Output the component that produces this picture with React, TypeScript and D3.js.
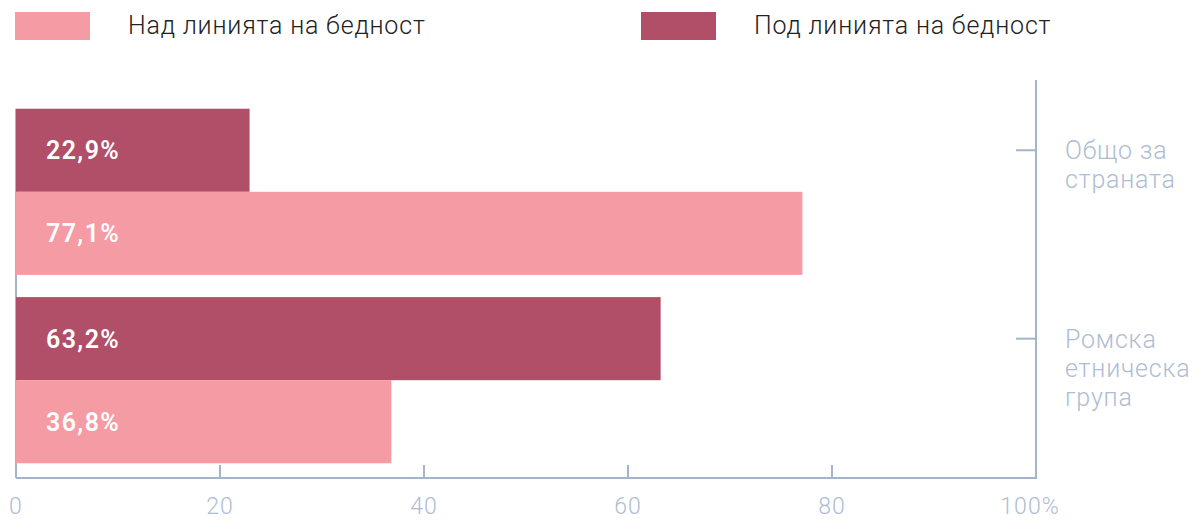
import React from 'react';
import * as d3 from 'd3';

const categories = ['Общо за страната', 'Ромска етническа група'];
const categoryLines = [['Общо за', 'страната'], ['Ромска', 'етническа', 'група']];
const seriesNames = ['Под линията на бедност', 'Над линията на бедност'];
const belowPoverty = [22.9, 63.2];
const abovePoverty = [77.1, 36.8];
const xTicks = [0, 20, 40, 60, 80, 100];

const colors = ['#b04f67', '#f59ba4'];
const axisColor = '#a4b4cc';
const labelColor = '#aebdd3';

const App: React.FC = () => {
  const width = 1200;
  const height = 521;

  const x = d3.scaleLinear().domain([0, 100]).range([16, 1036]);
  const y = d3.scaleBand().domain(categories).range([88, 484]).paddingInner(0.118).paddingOuter(0.11);
  const sub = d3.scaleBand().domain(seriesNames).range([0, y.bandwidth()]);

  const fmt = (v: number) => v.toFixed(1).replace('.', ',') + '%';
  const series = [belowPoverty, abovePoverty];
  const bottom = 478;

  return (
    <svg
      width={width}
      height={height}
      lang="bg"
      style={{ position: 'absolute', left: 0, top: 0, fontFamily: 'Roboto, sans-serif' }}
    >
      {/* legend */}
      <rect x={15} y={12} width={75} height={28} fill={colors[1]} />
      <text x={128} y={34} fontSize={25} fontWeight={300} letterSpacing={0.8} fill="#222">
        {seriesNames[1]}
      </text>
      <rect x={641} y={12} width={75} height={28} fill={colors[0]} />
      <text x={754} y={34} fontSize={25} fontWeight={300} letterSpacing={0.8} fill="#222">
        {seriesNames[0]}
      </text>

      {/* left axis line */}
      <line x1={x(0)} x2={x(0)} y1={y(categories[0])!} y2={bottom} stroke={axisColor} strokeWidth={2} />

      {/* bars */}
      {categories.map((c, i) => (
        <g key={c}>
          {series.map((s, j) => (
            <g key={j}>
              <rect
                x={x(0)}
                y={y(c)! + sub(seriesNames[j])!}
                width={x(s[i]) - x(0)}
                height={sub.bandwidth()}
                fill={colors[j]}
              />
              <text
                x={46}
                y={y(c)! + sub(seriesNames[j])! + sub.bandwidth() / 2 + 9}
                fontSize={25}
                fontWeight={600}
                letterSpacing={1.4}
                fill="#fff"
              >
                {fmt(s[i])}
              </text>
            </g>
          ))}
        </g>
      ))}

      {/* bottom axis */}
      <line x1={x(0)} x2={x(100) + 1} y1={bottom} y2={bottom} stroke={axisColor} strokeWidth={2} />
      {xTicks.map(t => (
        <g key={t}>
          <line x1={x(t)} x2={x(t)} y1={465} y2={bottom} stroke={axisColor} strokeWidth={2} />
          <text
            x={x(t) - (t === 100 ? 6 : 0)}
            y={514}
            textAnchor="middle"
            fontSize={23}
            fontWeight={300}
            letterSpacing={1}
            fill={labelColor}
          >
            {t === 100 ? '100%' : t}
          </text>
        </g>
      ))}

      {/* right axis */}
      <line x1={x(100)} x2={x(100)} y1={80} y2={bottom} stroke={axisColor} strokeWidth={2} />
      {categories.map((c, i) => {
        const ty = y(c)! + sub(seriesNames[0])! + sub.bandwidth() / 2;
        return (
          <g key={c}>
            <line x1={x(100) - 20} x2={x(100)} y1={ty} y2={ty} stroke={axisColor} strokeWidth={2} />
            <text x={1065} y={ty + 9} fontSize={25} fontWeight={300} letterSpacing={0.8} fill={labelColor}>
              {categoryLines[i].map((l, k) => (
                <tspan key={k} x={1065} dy={k === 0 ? 0 : 29}>
                  {l}
                </tspan>
              ))}
            </text>
          </g>
        );
      })}
    </svg>
  );
};

export default App;
